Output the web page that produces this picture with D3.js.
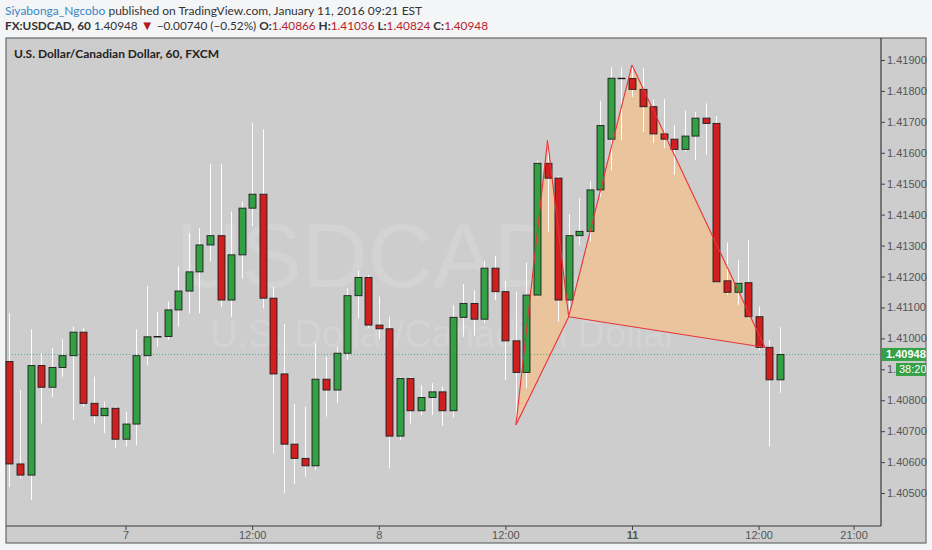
<!DOCTYPE html>
<html>
<head>
<meta charset="utf-8">
<script src="https://cdnjs.cloudflare.com/ajax/libs/d3/7.8.5/d3.min.js"></script>
<style>
  body { margin: 0; background: #f3f5f7; }
  svg { display: block; }
</style>
</head>
<body>
<svg id="svg1" width="932" height="550"></svg>
<script>
// hourly USDCAD bars, Jan 6 13:00 .. Jan 11 14:00
var opens  = [1.40925,1.40594,1.40558,1.40912,1.40842,1.40906,1.40944,1.41020,1.40790,1.40750,
              1.40774,1.40674,1.40723,1.40944,1.41005,1.41006,1.41092,1.41153,1.41215,1.41302,
              1.41332,1.41124,1.41270,1.41421,1.41466,1.41130,1.40885,1.40658,1.40612,1.40588,
              1.40868,1.40833,1.40952,1.41138,1.41197,1.41043,1.41031,1.40684,1.40870,1.40766,
              1.40809,1.40827,1.40766,1.41068,1.41113,1.41062,1.41227,1.41151,1.40992,1.40890,
              1.41140,1.41566,1.41518,1.41124,1.41332,1.41346,1.41480,1.41644,1.41841,1.41840,
              1.41805,1.41749,1.41661,1.41644,1.41611,1.41654,1.41712,1.41695,1.41186,1.41149,
              1.41180,1.41070,1.40971,1.40866];
var highs  = [1.41081,1.40833,1.41029,1.40952,1.40968,1.40997,1.41038,1.41033,1.40876,1.40795,
              1.40780,1.40763,1.41029,1.41169,1.41086,1.41119,1.41234,1.41340,1.41356,1.41564,
              1.41564,1.41410,1.41442,1.41697,1.41676,1.41167,1.41046,1.40788,1.40779,1.40984,
              1.40941,1.40973,1.41162,1.41219,1.41205,1.41135,1.41070,1.40875,1.40876,1.40849,
              1.40855,1.40844,1.41108,1.41176,1.41156,1.41251,1.41266,1.41186,1.41151,1.41245,
              1.41575,1.41641,1.41525,1.41402,1.41453,1.41507,1.41768,1.41876,1.41876,1.41884,
              1.41873,1.41773,1.41773,1.41690,1.41736,1.41733,1.41760,1.41719,1.41309,1.41253,
              1.41318,1.41102,1.40995,1.41036];
var lows   = [1.40520,1.40548,1.40477,1.40725,1.40811,1.40876,1.40736,1.40779,1.40725,1.40693,
              1.40645,1.40650,1.40655,1.40914,1.40973,1.40995,1.41038,1.41081,1.41081,1.41248,
              1.41102,1.41070,1.41194,1.41363,1.41097,1.40628,1.40499,1.40529,1.40553,1.40574,
              1.40747,1.40790,1.40930,1.41065,1.41033,1.40997,1.40580,1.40671,1.40725,1.40752,
              1.40752,1.40717,1.40745,1.41005,1.41008,1.41049,1.41124,1.40865,1.40720,1.40839,
              1.41135,1.41345,1.41054,1.41070,1.41302,1.41313,1.41458,1.41544,1.41641,1.41781,
              1.41668,1.41631,1.41615,1.41528,1.41604,1.41577,1.41593,1.41180,1.41140,1.41108,
              1.41065,1.40962,1.40650,1.40824];
var closes = [1.40594,1.40558,1.40912,1.40842,1.40906,1.40944,1.41020,1.40790,1.40750,1.40774,
              1.40674,1.40723,1.40944,1.41005,1.41006,1.41092,1.41153,1.41215,1.41302,1.41332,
              1.41124,1.41270,1.41421,1.41466,1.41130,1.40885,1.40658,1.40612,1.40588,1.40868,
              1.40833,1.40952,1.41138,1.41197,1.41043,1.41031,1.40684,1.40870,1.40766,1.40809,
              1.40827,1.40766,1.41068,1.41113,1.41062,1.41227,1.41151,1.40992,1.40890,1.41140,
              1.41566,1.41518,1.41124,1.41332,1.41346,1.41480,1.41688,1.41841,1.41840,1.41805,
              1.41749,1.41661,1.41644,1.41611,1.41654,1.41712,1.41695,1.41183,1.41149,1.41178,
              1.41070,1.40971,1.40866,1.40948];

// time axis: bar index -> label
var timeTickIdx    = [11, 23, 35, 47, 59, 71, 80];
var timeTickLabels = ['7', '12:00', '8', '12:00', '11', '12:00', '21:00'];

var priceTicks = [1.405, 1.406, 1.407, 1.408, 1.409, 1.410, 1.411, 1.412, 1.413, 1.414, 1.415, 1.416, 1.417, 1.418, 1.419];

// XABCD pattern drawing (bar index, price)
var patternIdx   = [48, 51, 53, 59, 71.6];
var patternPrice = [1.40720, 1.41641, 1.41070, 1.41884, 1.40971];

var lastPrice = 1.40948;
var countdown = '38:20';

var width = 932, height = 550;
var plotLeft = 6, plotRight = 881, plotTop = 38, plotBottom = 526;
var frameRight = 926, frameBottom = 543;

var svg = d3.select('#svg1');
var fmt = d3.format('.5f');

var x = d3.scaleLinear().domain([-0.33, 82.6]).range([plotLeft, plotRight]);
var y = d3.scaleLinear().domain([1.403934, 1.419711]).range([plotBottom, plotTop]);
var step = x(1) - x(0);
var bodyW = step * 0.66;

// header
var head = svg.append('g').attr('font-family', 'Lato, sans-serif').attr('fill', '#333');
var l1 = head.append('text').attr('x', 5).attr('y', 14.5).attr('font-size', 12);
l1.append('tspan').attr('fill', '#3a87c4').text('Siyabonga_Ngcobo');
l1.append('tspan').text(' published on TradingView.com, January 11, 2016 09:21 EST');

var l2 = head.append('text').attr('x', 5).attr('y', 30).attr('font-size', 11.8);
l2.append('tspan').attr('font-weight', 'bold').text('FX:USDCAD, 60');
l2.append('tspan').text(' 1.40948 ');
l2.append('tspan').attr('fill', '#b5171c').attr('font-size', 13).text('\u25BC');
l2.append('tspan').text(' \u22120.00740 (\u22120.52%) ');
var ohlc = [['O:', '1.40866'], ['H:', '1.41036'], ['L:', '1.40824'], ['C:', '1.40948']];
ohlc.forEach(function(p, i) {
    l2.append('tspan').attr('font-weight', 'bold').text((i ? ' ' : '') + p[0]);
    l2.append('tspan').attr('fill', '#b5232a').text(p[1]);
});

// chart frame
svg.append('rect')
    .attr('x', plotLeft).attr('y', plotTop)
    .attr('width', frameRight - plotLeft).attr('height', frameBottom - plotTop)
    .attr('fill', '#cdcdcd').attr('stroke', '#6a6a6a').attr('stroke-width', 1.2);

var plot = svg.append('g');

// watermark
plot.append('text')
    .attr('x', (plotLeft + plotRight) / 2).attr('y', 287)
    .attr('text-anchor', 'middle')
    .attr('font-family', 'Liberation Sans, Arial, sans-serif')
    .attr('font-size', 91)
    .attr('fill', '#ffffff').attr('fill-opacity', 0.13)
    .text('USDCAD, 60');
plot.append('text')
    .attr('x', (plotLeft + plotRight) / 2).attr('y', 347)
    .attr('text-anchor', 'middle')
    .attr('font-family', 'Liberation Sans, Arial, sans-serif')
    .attr('font-size', 38)
    .attr('fill', '#ffffff').attr('fill-opacity', 0.13)
    .text('U.S. Dollar/Canadian Dollar');

// pattern fill
var pts = patternIdx.map(function(d, i) { return [x(d), y(patternPrice[i])]; });
[[0, 1, 2], [2, 3, 4]].forEach(function(tri) {
    plot.append('polygon')
        .attr('points', tri.map(function(k) { return pts[k].join(','); }).join(' '))
        .attr('fill', '#e9c49c');
});

// last price dotted line
plot.append('line')
    .attr('x1', plotLeft).attr('x2', plotRight)
    .attr('y1', y(lastPrice)).attr('y2', y(lastPrice))
    .attr('stroke', '#5aa88a').attr('stroke-width', 1)
    .attr('stroke-dasharray', '1,2');

// candles
var bars = d3.range(opens.length).map(function(i) {
    return {i: i, o: opens[i], h: highs[i], l: lows[i], c: closes[i]};
});

plot.selectAll('line.wick')
    .data(bars)
    .enter()
    .append('line')
    .attr('class', 'wick')
    .attr('x1', function(d) { return Math.round(x(d.i)) + 0.5; })
    .attr('x2', function(d) { return Math.round(x(d.i)) + 0.5; })
    .attr('y1', function(d) { return y(d.h); })
    .attr('y2', function(d) { return y(d.l); })
    .attr('stroke', '#ffffff')
    .attr('stroke-width', 1);

plot.selectAll('rect.body')
    .data(bars)
    .enter()
    .append('rect')
    .attr('class', 'body')
    .attr('x', function(d) { return Math.round(x(d.i)) + 0.5 - bodyW / 2; })
    .attr('y', function(d) { return y(Math.max(d.o, d.c)); })
    .attr('width', bodyW)
    .attr('height', function(d) { return Math.max(0.5, Math.abs(y(d.o) - y(d.c))); })
    .attr('fill', function(d) { return d.c >= d.o ? '#33a043' : '#d11f1f'; })
    .attr('stroke', '#1d1d1d')
    .attr('stroke-width', 0.9);

// pattern outline
[[0, 1], [1, 2], [2, 0], [2, 3], [3, 4], [4, 2]].forEach(function(e) {
    plot.append('line')
        .attr('x1', pts[e[0]][0]).attr('y1', pts[e[0]][1])
        .attr('x2', pts[e[1]][0]).attr('y2', pts[e[1]][1])
        .attr('stroke', '#e8333a').attr('stroke-width', 1.1);
});

// plot border lines
svg.append('line').attr('x1', plotRight).attr('x2', plotRight).attr('y1', plotTop).attr('y2', plotBottom)
    .attr('stroke', '#3a3a3a').attr('stroke-width', 1.2);
svg.append('line').attr('x1', plotLeft).attr('x2', plotRight).attr('y1', plotBottom).attr('y2', plotBottom)
    .attr('stroke', '#3a3a3a').attr('stroke-width', 1.2);

// chart title
svg.append('text')
    .attr('x', 14).attr('y', 58)
    .attr('font-family', 'Lato, sans-serif').attr('font-size', 12).attr('font-weight', 'bold')
    .attr('fill', '#222')
    .text('U.S. Dollar/Canadian Dollar, 60, FXCM');

// price axis
var yAxis = d3.axisRight(y)
    .tickValues(priceTicks)
    .tickFormat(fmt)
    .tickSize(4)
    .tickPadding(2);
var ya = svg.append('g')
    .attr('transform', 'translate(' + plotRight + ',0)')
    .call(yAxis);
ya.select('.domain').remove();
ya.selectAll('line').attr('stroke', '#444');
ya.selectAll('text')
    .attr('font-family', 'Liberation Sans, Arial, sans-serif')
    .attr('font-size', 11).attr('fill', '#555');

// time axis
var xAxis = d3.axisBottom(x)
    .tickValues(timeTickIdx)
    .tickFormat(function(d, i) { return timeTickLabels[i]; })
    .tickSize(4)
    .tickPadding(1);
var xa = svg.append('g')
    .attr('transform', 'translate(0,' + plotBottom + ')')
    .call(xAxis);
xa.select('.domain').remove();
xa.selectAll('line').attr('stroke', '#444');
xa.selectAll('text')
    .attr('font-family', 'Liberation Sans, Arial, sans-serif')
    .attr('font-size', 11).attr('fill', '#555')
    .attr('font-weight', function(d, i) { return timeTickLabels[i] === '11' ? 'bold' : null; });

// last price label + countdown
var py = y(lastPrice);
svg.append('rect')
    .attr('x', plotRight).attr('y', py - 6.5)
    .attr('width', frameRight - plotRight).attr('height', 13)
    .attr('fill', '#35a046');
svg.append('text')
    .attr('x', plotRight + 5).attr('y', py + 4)
    .attr('font-family', 'Liberation Sans, Arial, sans-serif')
    .attr('font-size', 11).attr('font-weight', 'bold').attr('fill', '#fff')
    .text(fmt(lastPrice));
svg.append('rect')
    .attr('x', plotRight + 15).attr('y', py + 8.5)
    .attr('width', frameRight - plotRight - 15).attr('height', 13)
    .attr('fill', '#35a046');
svg.append('text')
    .attr('x', plotRight + 18).attr('y', py + 19)
    .attr('font-family', 'Liberation Sans, Arial, sans-serif')
    .attr('font-size', 11).attr('fill', '#fff')
    .text(countdown);
</script>
</body>
</html>
